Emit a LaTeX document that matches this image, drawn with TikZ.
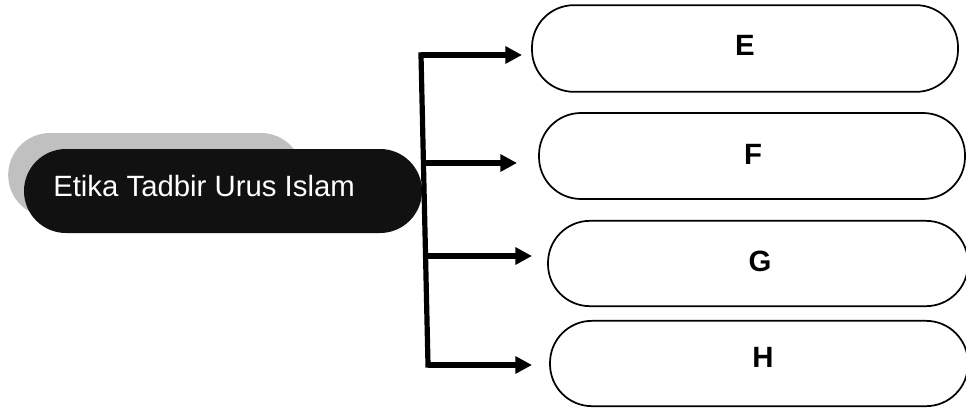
\documentclass[tikz,border=0pt]{standalone}
\usepackage{fontspec}
\setmainfont{Liberation Sans}
\usetikzlibrary{arrows.meta}
\newcommand{\boxfont}{\fontsize{22}{24}\selectfont\bfseries}
\begin{document}
\begin{tikzpicture}[x=0.75pt,y=-0.75pt,
  pill/.style={draw=black, line width=1.3pt, fill=white, rounded corners=31.5pt,
    minimum height=64pt, inner sep=0pt},
  trunk/.style={line width=3.9pt, line cap=rect},
  arr/.style={line width=3.9pt, -{Triangle[length=12.5pt,width=12.5pt]}}]
\useasboundingbox (0,0) rectangle (966,407);
% central pills
\node[fill={rgb,255:red,192;green,192;blue,192}, rounded corners=31.5pt, minimum width=221pt, minimum height=63pt, inner sep=0pt] (shadow) at (155.5,175) {};
\node[fill={rgb,255:red,17;green,17;blue,17}, rounded corners=31.5pt, minimum width=298.5pt, minimum height=63pt, inner sep=0pt] (main) at (223,191) {};
\node[anchor=west, text=white, inner sep=0pt] (label) at (53,186) {\fontsize{22}{24}\selectfont Etika Tadbir Urus Islam};
% right boxes
\node[pill, minimum width=319.5pt, minimum height=65pt] (E) at (745,48.5) {};
\node[pill, minimum width=319.5pt, minimum height=64.5pt] (F) at (752,156) {};
\node[pill, minimum width=315pt] (G) at (758,263.5) {};
\node[pill, minimum width=313.5pt] (H) at (759,363.5) {};
\node[inner sep=0pt] (tE) at (745,45) {\boxfont E};
\node[inner sep=0pt] (tF) at (753,154) {\boxfont F};
\node[inner sep=0pt] (tG) at (760,261) {\boxfont G};
\node[inner sep=0pt] (tH) at (763,357) {\boxfont H};
% connectors
\coordinate (t1) at (421,55);
\coordinate (t2) at (424,163);
\coordinate (t3) at (427,256);
\coordinate (t4) at (428,365);
\coordinate (a1) at (522,55);
\coordinate (a2) at (517,163);
\coordinate (a3) at (532,256);
\coordinate (a4) at (532,365);
\draw[trunk] (t1) -- (t4);
\draw[arr] (t1) -- (a1);
\draw[arr] (t2) -- (a2);
\draw[arr] (t3) -- (a3);
\draw[arr] (t4) -- (a4);
\end{tikzpicture}
\end{document}
